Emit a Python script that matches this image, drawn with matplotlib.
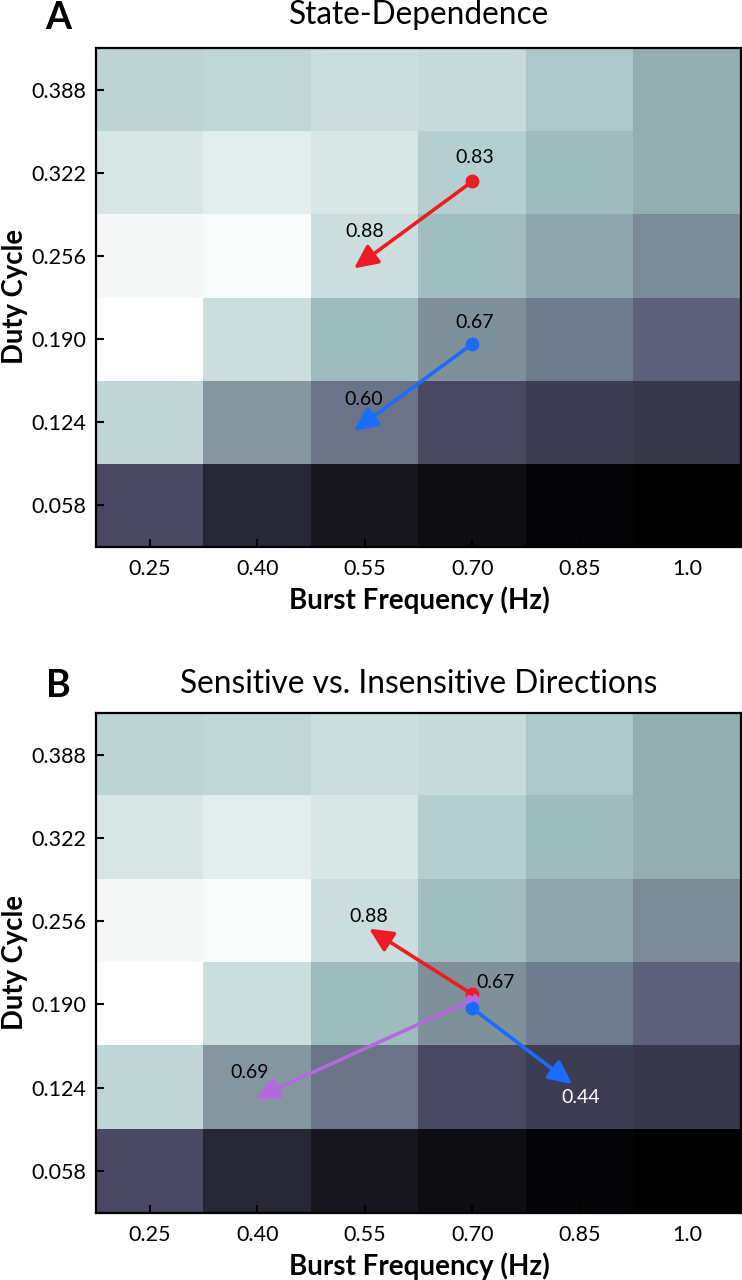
import numpy as np
import matplotlib.pyplot as plt
from matplotlib.colors import LinearSegmentedColormap

plt.rcParams['font.family'] = ['Lato', 'DejaVu Sans']

# axes values
burst_freq = [0.25, 0.40, 0.55, 0.70, 0.85, 1.0]
burst_labels = ['0.25', '0.40', '0.55', '0.70', '0.85', '1.0']
duty_cycle = [0.058, 0.124, 0.190, 0.256, 0.322, 0.388]
duty_labels = ['0.058', '0.124', '0.190', '0.256', '0.322', '0.388']

# cell values, bottom row (duty 0.058) first, columns = burst frequency
cell_vals = np.array([
    [0.28, 0.15, 0.10, 0.06, 0.025, 0.00],
    [0.81, 0.57, 0.43, 0.28, 0.23, 0.20],
    [1.00, 0.84, 0.71, 0.52, 0.45, 0.38],
    [0.955, 0.97, 0.84, 0.715, 0.63, 0.50],
    [0.875, 0.91, 0.88, 0.78, 0.71, 0.65],
    [0.80, 0.815, 0.845, 0.83, 0.75, 0.65],
])

# colormap anchors (value, colour)
cmap_pts = [(0.00, '#000000'), (0.10, '#18171f'), (0.20, '#37364a'),
            (0.28, '#4a4862'), (0.38, '#5e607a'), (0.45, '#6f7b8e'),
            (0.52, '#7f909b'), (0.58, '#8798a2'), (0.65, '#93adb0'),
            (0.72, '#a1bec0'), (0.80, '#bcd4d4'), (0.88, '#d9e6e6'),
            (0.95, '#f5f8f8'), (1.00, '#ffffff')]
cmap = LinearSegmentedColormap.from_list('duty', cmap_pts)

# panel A arrows: (start x, start y, end x, end y, colour)
arrows_a = [
    (0.70, 0.315, 0.535, 0.246, '#ed1c24'),
    (0.70, 0.186, 0.535, 0.117, '#1a6dfa'),
]
labels_a = [(0.703, 0.334, '0.83', 'k'), (0.55, 0.275, '0.88', 'k'),
            (0.703, 0.203, '0.67', 'k'), (0.548, 0.142, '0.60', 'k')]

# panel B arrows
arrows_b = [
    (0.70, 0.198, 0.556, 0.250, '#ed1c24'),
    (0.70, 0.1936, 0.397, 0.1154, '#b46ade'),
    (0.70, 0.187, 0.8395, 0.1268, '#1a6dfa'),
]
labels_b = [(0.555, 0.260, '0.88', 'k'), (0.733, 0.207, '0.67', 'k'),
            (0.390, 0.136, '0.69', 'k'), (0.851, 0.116, '0.44', 'w')]

W, H = 742, 1280
fig = plt.figure(figsize=(W / 100, H / 100), dpi=100)


def heat(ax):
    ext = [0.175, 1.075, 0.025, 0.421]
    ax.imshow(cell_vals, cmap=cmap, vmin=0, vmax=1, origin='lower',
              extent=ext, aspect='auto', interpolation='nearest')
    ax.set_xlim(ext[0], ext[1])
    ax.set_ylim(ext[2], ext[3])
    ax.set_xticks(burst_freq)
    ax.set_xticklabels(burst_labels)
    ax.set_yticks(duty_cycle)
    ax.set_yticklabels(duty_labels)
    ax.tick_params(direction='in', length=6, width=1.5, labelsize=15.5, pad=9)
    ax.tick_params(axis='y', pad=7)
    for i, t in enumerate(ax.xaxis.get_ticklines()):
        t.set_color('k' if i < 2 else 'w')
    for s in ax.spines.values():
        s.set_linewidth(1.6)


def arrow(ax, x0, y0, x1, y1, c):
    ax.annotate('', xy=(x1, y1), xytext=(x0, y0),
                arrowprops=dict(arrowstyle='-|>,head_length=0.42,head_width=0.2',
                                color=c, lw=2.6, mutation_scale=34,
                                shrinkA=0, shrinkB=0))
    ax.plot(x0, y0, 'o', color=c, ms=10, mec='none')


ax1 = fig.add_axes([96 / W, 1 - 546.7 / H, 645 / W, 498.7 / H])
heat(ax1)
for x0, y0, x1, y1, c in arrows_a:
    arrow(ax1, x0, y0, x1, y1, c)
for x, y, s, c in labels_a:
    ax1.text(x, y, s, color=c, fontsize=14, ha='center', va='center')

ax2 = fig.add_axes([96 / W, 1 - 1212.5 / H, 645 / W, 499.5 / H])
heat(ax2)
for x0, y0, x1, y1, c in arrows_b:
    arrow(ax2, x0, y0, x1, y1, c)
for x, y, s, c in labels_b:
    ax2.text(x, y, s, color=c, fontsize=14, ha='center', va='center')

# titles and labels
fig.text(58 / W, 1 - 18 / H, 'A', fontsize=27, fontweight='bold', ha='center', va='center')
fig.text(58 / W, 1 - 686 / H, 'B', fontsize=27, fontweight='bold', ha='center', va='center')
fig.text(419 / W, 1 - 15 / H, 'State-Dependence', fontsize=22.8, ha='center', va='center')
fig.text(419 / W, 1 - 684 / H, 'Sensitive vs. Insensitive Directions', fontsize=22.8,
         ha='center', va='center')
for yc in [296, 962]:
    fig.text(15 / W, 1 - yc / H, 'Duty Cycle', fontsize=19.8, fontweight='bold',
             rotation=90, ha='center', va='center')
for yc in [600, 1266]:
    fig.text(419 / W, 1 - yc / H, 'Burst Frequency (Hz)', fontsize=20,
             fontweight='bold', ha='center', va='center')

fig.savefig('out.png', dpi=100)
